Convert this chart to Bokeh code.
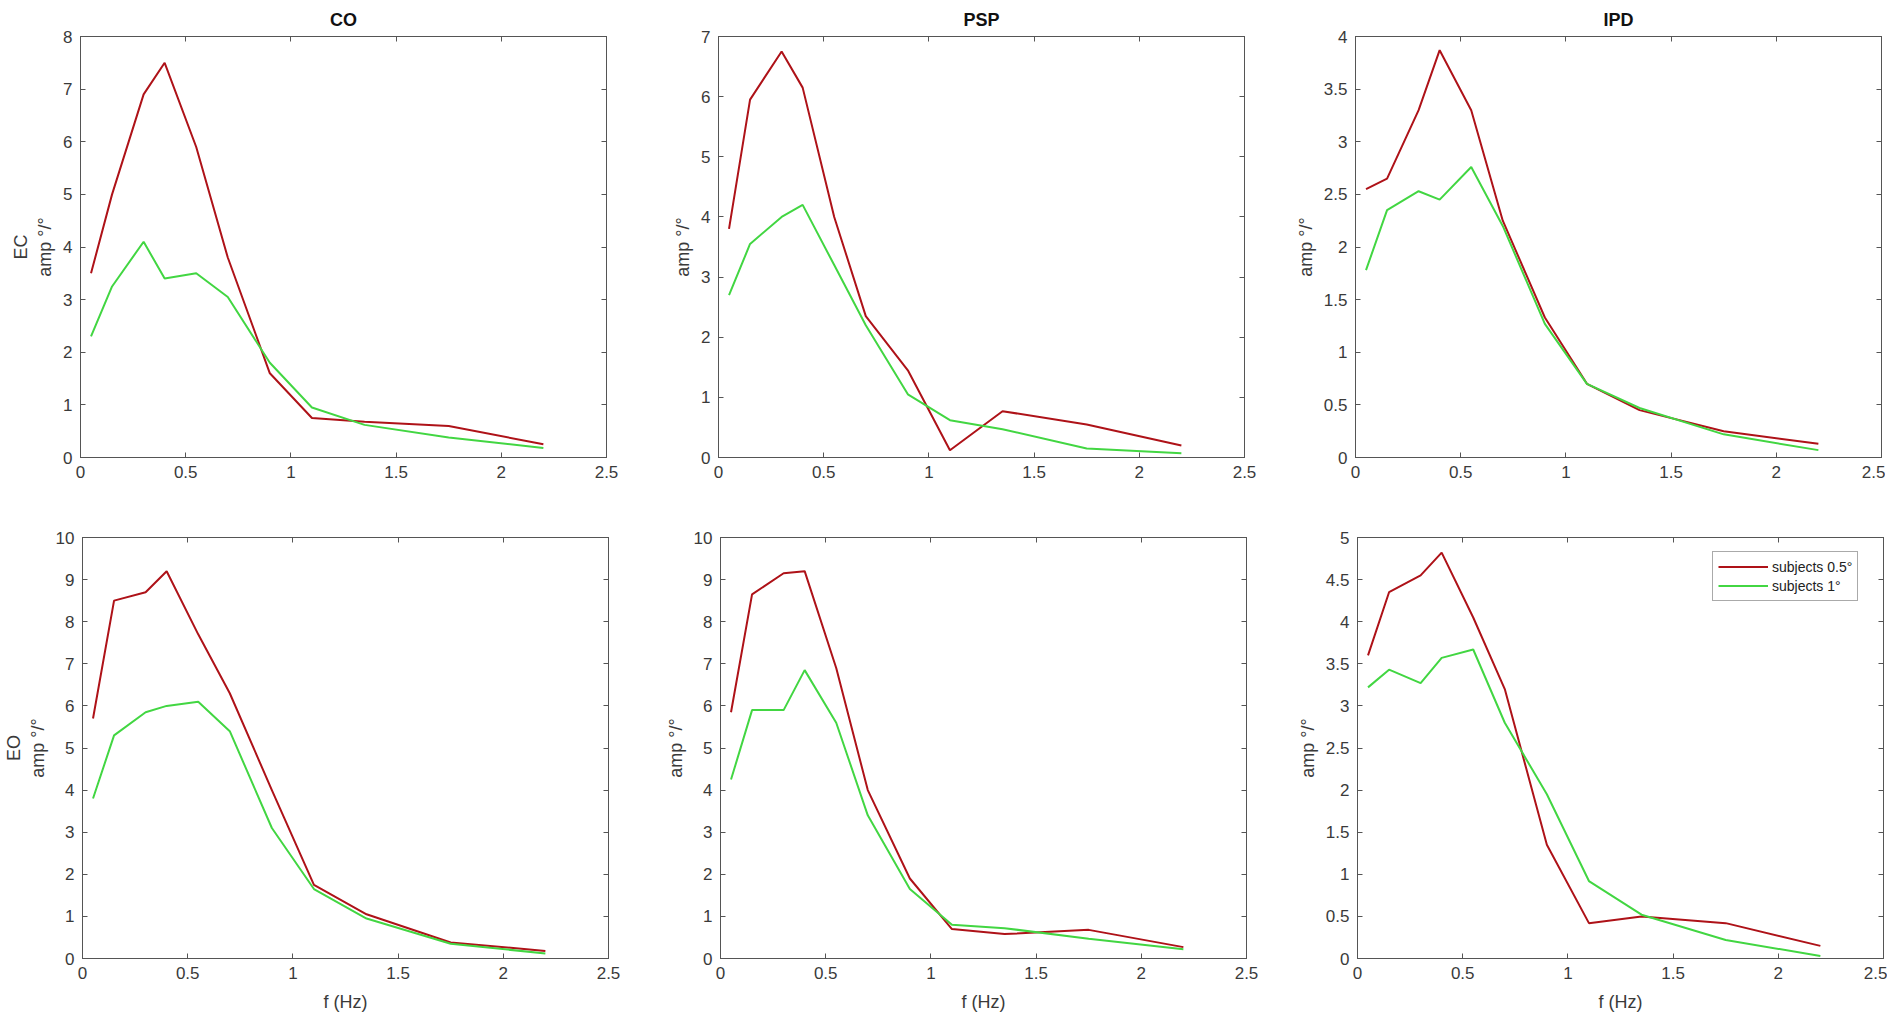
from bokeh.plotting import figure
from bokeh.layouts import column, row
from bokeh.models import LinearAxis, FixedTicker, Range1d, Legend, LegendItem
from bokeh.embed import file_html
from bokeh.resources import INLINE

# frequency (Hz)
freq = [0.05, 0.15, 0.3, 0.4, 0.55, 0.7, 0.9, 1.1, 1.35, 1.75, 2.2]

# Eyes closed (EC)
co_ec_05 = [3.5, 5.0, 6.9, 7.5, 5.9, 3.8, 1.6, 0.75, 0.68, 0.6, 0.25]
co_ec_1 = [2.3, 3.25, 4.1, 3.4, 3.5, 3.05, 1.8, 0.95, 0.62, 0.38, 0.18]
psp_ec_05 = [3.8, 5.95, 6.75, 6.15, 4.0, 2.35, 1.45, 0.12, 0.77, 0.55, 0.2]
psp_ec_1 = [2.7, 3.55, 4.0, 4.2, 3.2, 2.2, 1.05, 0.62, 0.47, 0.15, 0.07]
ipd_ec_05 = [2.55, 2.65, 3.3, 3.87, 3.3, 2.25, 1.33, 0.7, 0.45, 0.25, 0.13]
ipd_ec_1 = [1.78, 2.35, 2.53, 2.45, 2.76, 2.2, 1.27, 0.7, 0.47, 0.22, 0.07]

# Eyes open (EO)
co_eo_05 = [5.7, 8.5, 8.7, 9.2, 7.7, 6.3, 4.0, 1.75, 1.05, 0.38, 0.18]
co_eo_1 = [3.8, 5.3, 5.85, 6.0, 6.1, 5.4, 3.1, 1.65, 0.95, 0.35, 0.12]
psp_eo_05 = [5.85, 8.65, 9.15, 9.2, 6.9, 4.0, 1.9, 0.7, 0.58, 0.68, 0.27]
psp_eo_1 = [4.25, 5.9, 5.9, 6.85, 5.6, 3.4, 1.65, 0.8, 0.72, 0.47, 0.22]
ipd_eo_05 = [3.6, 4.35, 4.55, 4.82, 4.05, 3.2, 1.35, 0.42, 0.5, 0.42, 0.15]
ipd_eo_1 = [3.22, 3.43, 3.27, 3.57, 3.67, 2.8, 1.95, 0.92, 0.52, 0.22, 0.03]

titles = ["CO", "PSP", "IPD"]
conditions = ["EC", "EO"]
series_labels = ["subjects 0.5°", "subjects 1°"]
x_ticks = [0, 0.5, 1, 1.5, 2, 2.5]
y_max = [[8, 7, 4], [10, 10, 5]]
y_step = [[1, 1, 0.5], [1, 1, 0.5]]

data = [[(co_ec_05, co_ec_1), (psp_ec_05, psp_ec_1), (ipd_ec_05, ipd_ec_1)],
        [(co_eo_05, co_eo_1), (psp_eo_05, psp_eo_1), (ipd_eo_05, ipd_eo_1)]]

RED = "#AE1218"
GREEN = "#42D642"
FONT = "Liberation Sans"
TXT = "#3a3a3a"
AX = "#555555"

FW, FH = 526, 421
LEFT = [80, 72, 72]
RIGHT = [40, 39, 4]


def style_axis(ax, labels=True):
    ax.axis_line_color = AX
    ax.major_tick_line_color = AX
    ax.major_tick_in = 5
    ax.major_tick_out = 0
    ax.minor_tick_line_color = None
    ax.major_label_text_font = FONT
    ax.major_label_text_font_size = "17px"
    ax.major_label_text_color = TXT
    ax.major_label_standoff = 8
    ax.axis_label_text_font = FONT
    ax.axis_label_text_font_size = "18px"
    ax.axis_label_text_font_style = "normal"
    ax.axis_label_text_color = TXT
    if not labels:
        ax.major_label_text_color = None
        ax.major_label_text_font_size = "1px"
        ax.major_label_standoff = 0


rows = []
for r in range(2):
    figs = []
    for c in range(3):
        ymax = y_max[r][c]
        st = y_step[r][c]
        yt = [i * st for i in range(int(round(ymax / st)) + 1)]
        p = figure(
            frame_width=FW, frame_height=FH,
            x_range=Range1d(0, 2.5), y_range=Range1d(0, ymax),
            output_backend="svg", toolbar_location=None,
            title=titles[c] if r == 0 else None,
            min_border_left=LEFT[c],
            min_border_right=RIGHT[c],
            min_border_top=36 if r == 0 else 40,
            min_border_bottom=40 if r == 0 else 60,
        )
        p.xgrid.visible = False
        p.ygrid.visible = False
        p.outline_line_color = AX
        p.background_fill_color = "white"
        p.border_fill_color = "white"
        if r == 0:
            p.title.align = "center"
            p.title.text_font = FONT
            p.title.text_font_size = "18px"
            p.title.text_font_style = "bold"
            p.title.text_color = "#111111"
            p.title.offset = 0
            p.title.standoff = 14
        p.xaxis.ticker = FixedTicker(ticks=x_ticks)
        p.yaxis.ticker = FixedTicker(ticks=yt)
        style_axis(p.xaxis[0])
        style_axis(p.yaxis[0])
        if r == 1:
            p.xaxis.axis_label = "f (Hz)"
            p.xaxis.axis_label_standoff = 10
        p.yaxis.axis_label = (conditions[r] + "\namp °/°") if c == 0 else "amp °/°"
        p.yaxis.axis_label_standoff = 5
        top = LinearAxis(ticker=FixedTicker(ticks=x_ticks))
        style_axis(top, labels=False)
        p.add_layout(top, "above")
        right = LinearAxis(ticker=FixedTicker(ticks=yt))
        style_axis(right, labels=False)
        p.add_layout(right, "right")

        s05, s1 = data[r][c]
        l1 = p.line(freq, s05, line_color=RED, line_width=2)
        l2 = p.line(freq, s1, line_color=GREEN, line_width=2)
        if r == 1 and c == 2:
            leg = Legend(items=[LegendItem(label=series_labels[0], renderers=[l1]),
                                LegendItem(label=series_labels[1], renderers=[l2])],
                         location=(355, 357))
            leg.label_text_font = FONT
            leg.label_text_font_size = "14px"
            leg.label_text_color = "#222222"
            leg.glyph_width = 50
            leg.glyph_height = 19
            leg.label_height = 19
            leg.spacing = 0
            leg.padding = 5
            leg.margin = 0
            leg.border_line_color = AX
            leg.label_standoff = 4
            p.add_layout(leg, "center")
        figs.append(p)
    rows.append(row(*figs, spacing=0))

layout = column(*rows, spacing=0)

open("out.html", "w").write(file_html(layout, INLINE))
